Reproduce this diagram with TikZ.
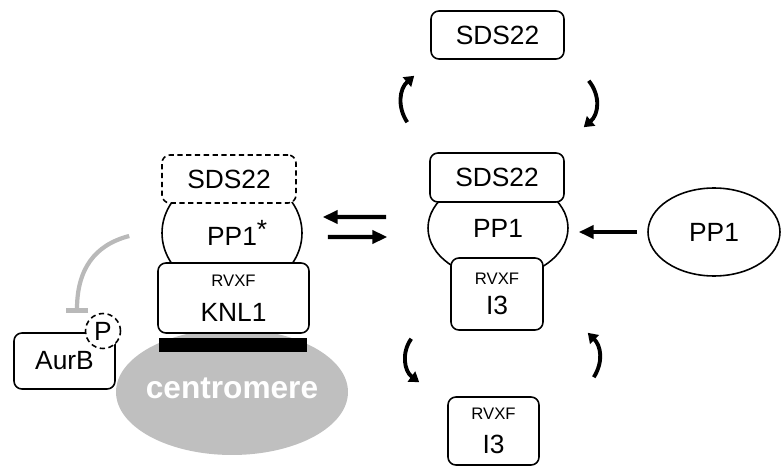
\documentclass[tikz,border=0pt]{standalone}
\usepackage{fontspec}
\setmainfont{Liberation Sans}
\usetikzlibrary{arrows.meta,shapes.geometric,positioning}
\tikzset{
    prot/.style={draw,line width=0.9pt,rounded corners=4.5pt,fill=white,inner sep=2pt,
        font=\fontsize{15}{17}\selectfont,align=center},
    blob/.style={draw,line width=0.9pt,ellipse,fill=white,inner sep=0pt,
        font=\fontsize{15}{17}\selectfont},
    flow/.style={line width=2.3pt,-{Triangle[length=8.5pt,width=7.5pt]}},
    turn/.style={line width=2.2pt,-{Triangle[length=5.5pt,width=7pt]}},
    inhibit/.style={line width=2.4pt,color=gray!55,-{Bar[width=13pt,line width=2.8pt]}},
    dashline/.style={dash pattern=on 3pt off 2pt},
}
\newcommand\Motif{{\fontsize{9.5}{10}\selectfont RVXF}}

\begin{document}
\begin{tikzpicture}[x=0.02cm,y=-0.02cm]
    \useasboundingbox (0,0) rectangle (781,466);
    % kinetochore side
    \node[ellipse,fill=gray!50,minimum width=4.64cm,minimum height=2.52cm,inner sep=0pt] (centro) at (232,392) {};
    \node[text=white,font=\bfseries\fontsize{18}{20}\selectfont] (centrolabel) at (232,388) {centromere};
    \node[blob,minimum width=2.8cm,minimum height=2.4cm] (pp1star) at (232,233) {PP1\rlap{\raisebox{4pt}{*}}};
    \node[prot,dashline,minimum width=2.68cm,minimum height=0.96cm] (sdsdash) at (229,179) {SDS22};
    \node[prot,minimum width=3.02cm,minimum height=1.4cm] (knl) at (233.5,298) {\Motif\\[3pt]KNL1};
    \node[fill=black,minimum width=2.96cm,minimum height=0.28cm,inner sep=0pt] (kinbar) at (233,345) {};
    \node[prot,minimum width=2.02cm,minimum height=1.12cm] (aurb) at (64.5,361) {AurB};
    \node[prot,circle,dashline,minimum size=0.7cm,inner sep=0pt] (phos) at (103,331) {P};
    \draw[inhibit] ([xshift=-0.64cm,yshift=-0.06cm]pp1star.west)
        .. controls +(-0.7cm,-0.18cm) and +(0,0.86cm) .. ([xshift=-0.52cm]phos.north);
    % free complexes
    \node[blob,minimum width=2.8cm,minimum height=2.0cm] (pp1mid) at (498,228) {PP1};
    \node[prot,minimum width=2.68cm,minimum height=0.98cm] (sdsmid) at (497,177.5) {SDS22};
    \node[prot,minimum width=1.84cm,minimum height=1.44cm] (i3mid) at (497,294) {\Motif\\[0pt]I3};
    \node[blob,minimum width=2.64cm,minimum height=1.76cm] (pp1free) at (714,232) {PP1};
    \node[prot,minimum width=2.66cm,minimum height=0.96cm] (sdsfree) at (497.5,35) {SDS22};
    \node[prot,minimum width=1.82cm,minimum height=1.36cm] (i3free) at (493.5,431) {\Motif\\[2pt]I3};
    % exchange
    \draw[flow] ([xshift=-0.82cm,yshift=0.22cm]pp1mid.west) -- ([xshift=0.4cm,yshift=0.32cm]pp1star.east);
    \draw[flow] ([xshift=0.5cm,yshift=-0.08cm]pp1star.east) -- ([xshift=-0.8cm,yshift=-0.18cm]pp1mid.west);
    \draw[flow,shorten <=5.7pt,shorten >=5.7pt] (pp1free.west) -- (pp1mid.east |- pp1free.west);
    % cycles
    \draw[turn] ([shift={(-22,-30)}]sdsmid.north west) .. controls +(-10,-15) and +(-15,13) .. ([shift={(-16,16)}]sdsfree.south west);
    \draw[turn] ([shift={(24,21)}]sdsfree.south east) .. controls +(12,15) and +(15,-13) .. ([shift={(19,-25)}]sdsmid.north east);
    \draw[turn] ([shift={(-39,8)}]i3mid.south west) .. controls +(-10,14) and +(-15,-11) .. ([shift={(-28,-14)}]i3free.north west);
    \draw[turn] ([shift={(54,-19)}]i3free.north east) .. controls +(10,-16) and +(13,13) .. ([shift={(44,2)}]i3mid.south east);
\end{tikzpicture}
\end{document}
